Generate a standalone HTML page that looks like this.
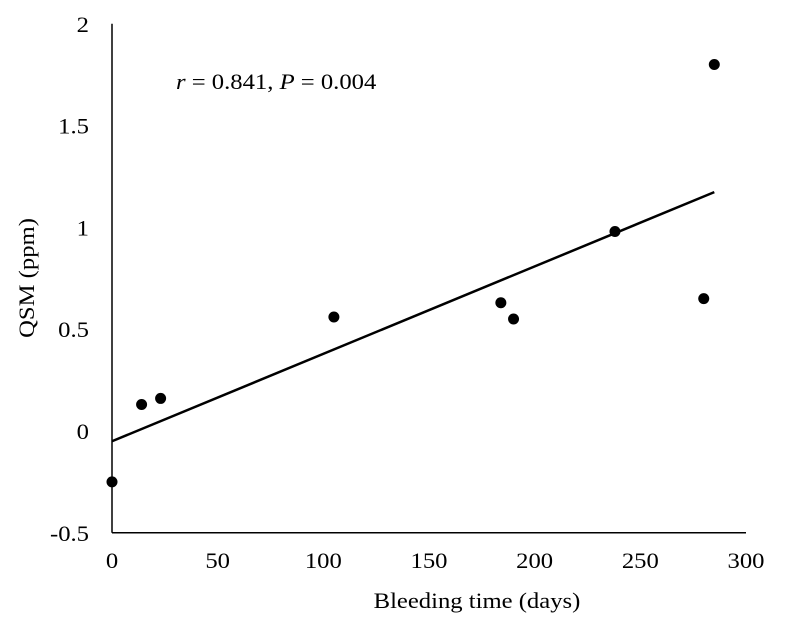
<!DOCTYPE html>
<html><head><meta charset="utf-8"><style>
html,body{margin:0;padding:0;background:#fff;}
svg{display:block;font-family:"Liberation Serif",serif;}
</style></head><body>
<svg id="chart" width="788" height="629" viewBox="0 0 788 629">
<g id="axes"></g><g id="marks"></g>
<text class="st" x="176" y="89" font-size="22"><tspan font-style="italic">r</tspan> = 0.841, <tspan font-style="italic">P</tspan> = 0.004</text>
<text class="st" x="477" y="608" font-size="22" text-anchor="middle">Bleeding time (days)</text>
<text class="st" transform="translate(34,278) rotate(-90)" font-size="22" text-anchor="middle">QSM (ppm)</text>
</svg>
<script>
const xValues=[0,14,23,105,184,190,238,280,285];
const yValues=[-0.25,0.13,0.16,0.56,0.63,0.55,0.98,0.65,1.80];
const xTicks=[0,50,100,150,200,250,300];
const yTicks=[-0.5,0,0.5,1,1.5,2];
const xTickLabels=["0","50","100","150","200","250","300"];
const yTickLabels=["-0.5","0","0.5","1","1.5","2"];
const X=v=>112+v*(634/300);
const Y=v=>431-v*203.6;
const NS="http://www.w3.org/2000/svg";
const axes=document.getElementById('axes'),marks=document.getElementById('marks');
function mk(tag,attrs,parent){const e=document.createElementNS(NS,tag);for(const k in attrs)e.setAttribute(k,attrs[k]);parent.appendChild(e);return e;}
let l=mk('line',{x1:X(0),x2:X(0),y1:Y(2),y2:Y(-0.5),stroke:'#000','stroke-width':1.5},axes);


l=mk('line',{x1:X(0),x2:X(300),y1:Y(-0.5),y2:Y(-0.5),stroke:'#000','stroke-width':1.5},axes);


xTicks.forEach((t,i)=>{const e=mk('text',{class:'st',x:X(t),y:Y(-0.5)+35,'font-size':22,'text-anchor':'middle'},axes);e.textContent=xTickLabels[i];

});
yTicks.forEach((t,i)=>{const e=mk('text',{class:'st',x:X(0)-23,y:Y(t)+8,'font-size':22,'text-anchor':'end'},axes);e.textContent=yTickLabels[i];

});
const n=xValues.length,mx=xValues.reduce((a,b)=>a+b)/n,my=yValues.reduce((a,b)=>a+b)/n;
let sxy=0,sxx=0;for(let i=0;i<n;i++){sxy+=(xValues[i]-mx)*(yValues[i]-my);sxx+=(xValues[i]-mx)**2;}
const slope=sxy/sxx,icpt=my-slope*mx;
const xmin=Math.min(...xValues),xmax=Math.max(...xValues);
l=mk('line',{x1:X(xmin),y1:Y(icpt+slope*xmin),x2:X(xmax),y2:Y(icpt+slope*xmax),stroke:'#000','stroke-width':2.5},marks);


xValues.forEach((x,i)=>{const c=mk('circle',{cx:X(x),cy:Y(yValues[i]),r:5.5,fill:'#000'},marks);

});
document.querySelectorAll('text.st').forEach(t=>{const w=t.getComputedTextLength();t.setAttribute('textLength',w*1.12);t.setAttribute('lengthAdjust','spacingAndGlyphs');});
</script>
</body></html>
